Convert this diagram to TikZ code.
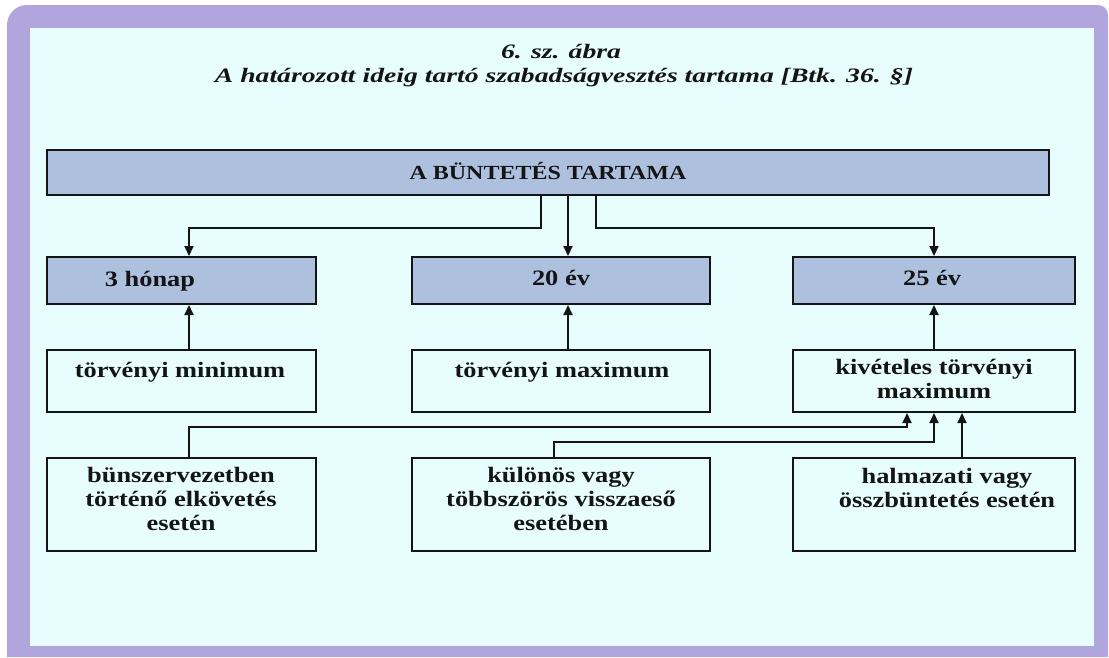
\documentclass[tikz,border=0pt]{standalone}
\usepackage{fontspec}
\setmainfont{Liberation Serif}[FakeStretch=1.2]
\newfontfamily\titlefont{Liberation Serif}[FakeStretch=1.35]
\usetikzlibrary{arrows.meta}
\definecolor{framecol}{HTML}{B0A6DD}
\definecolor{bgcol}{HTML}{E8FEFE}
\definecolor{hdrcol}{HTML}{ADC1DF}
\definecolor{inkcol}{HTML}{141414}
\begin{document}
\begin{tikzpicture}[x=1pt,y=-1pt,
  box/.style={draw=inkcol, line width=2pt, inner sep=0pt, rectangle},
  hbox/.style={box, fill=hdrcol},
  wbox/.style={box, fill=bgcol},
  txt/.style={font=\bfseries\fontsize{22}{24}\selectfont, text=inkcol, inner sep=0pt, align=center, anchor=base},
  capstxt/.style={txt, font=\bfseries\fontsize{20}{24}\selectfont},
  ttl/.style={font=\titlefont\bfseries\itshape\fontsize{20.5}{24}\selectfont, text=inkcol, inner sep=0pt, anchor=base},
  arr/.style={draw=inkcol, line width=2pt, -{Triangle[length=10pt,width=9pt]}}]
\useasboundingbox (0,0) rectangle (1109,657);
\fill[white] (0,0) rectangle (1109,657);
\fill[framecol] (7,657) [rounded corners=20pt] -- (7,5) [rounded corners=10pt] -- (1108,5) [sharp corners] -- (1108,657) -- cycle;
\fill[bgcol] (30,28) rectangle (1094,646);

\node[ttl] (title1) at (561,58) {6. sz. ábra};
\node[ttl] (title2) at (564,82) {A határozott ideig tartó szabadságvesztés tartama [Btk. 36. §]};

\node[hbox, minimum width=1002pt, minimum height=45pt] (top) at (548,172.5) {};
\node[hbox, minimum width=269pt, minimum height=47pt] (hon) at (181.5,280.5) {};
\node[hbox, minimum width=298pt, minimum height=47pt] (ev20) at (561,280.5) {};
\node[hbox, minimum width=282pt, minimum height=47pt] (ev25) at (934,280.5) {};
\node[wbox, minimum width=269pt, minimum height=62pt] (tmin) at (181.5,381) {};
\node[wbox, minimum width=298pt, minimum height=62pt] (tmax) at (561,381) {};
\node[wbox, minimum width=282pt, minimum height=62pt] (kiv) at (934,381) {};
\node[wbox, minimum width=269pt, minimum height=93pt] (bun) at (181.5,504.5) {};
\node[wbox, minimum width=298pt, minimum height=93pt] (kul) at (561,504.5) {};
\node[wbox, minimum width=282pt, minimum height=93pt] (halm) at (934,504.5) {};

\node[capstxt] (ttop) at (548,179) {A BÜNTETÉS TARTAMA};
\node[txt] (thon) at (150,286) {3 hónap};
\node[txt] (t20) at (561,285) {20 év};
\node[txt] (t25) at (932,285) {25 év};
\node[txt] (tmint) at (180,377) {törvényi minimum};
\node[txt] (tmaxt) at (562,377) {törvényi maximum};
\node[txt] (kivt) at (934,398) {kivételes törvényi\\maximum};
\node[txt] (bunt) at (181,530) {bünszervezetben\\történő elkövetés\\esetén};
\node[txt] (kult) at (561,530) {különös vagy\\többszörös visszaeső\\esetében};
\node[txt] (halmt) at (947,507) {halmazati vagy\\összbüntetés esetén};

\draw[arr] ([xshift=-7pt]top.south) -- ++(0,32) -| ([xshift=7.5pt]hon.north);
\draw[arr] ([xshift=20pt]top.south) -- ([xshift=7pt]ev20.north);
\draw[arr] ([xshift=48pt]top.south) -- ++(0,32) -| (ev25.north);
\draw[arr] ([xshift=7.5pt]tmin.north) -- ([xshift=7.5pt]hon.south);
\draw[arr] ([xshift=7pt]tmax.north) -- ([xshift=7pt]ev20.south);
\draw[arr] (kiv.north) -- (ev25.south);
\draw[arr] ([xshift=7.5pt]bun.north) -- ++(0,-30) -| ([xshift=-27pt]kiv.south);
\draw[arr] ([xshift=-7pt]kul.north) -- ++(0,-15) -| (kiv.south);
\draw[arr] ([xshift=28pt]halm.north) -- ([xshift=28pt]kiv.south);
\end{tikzpicture}
\end{document}
